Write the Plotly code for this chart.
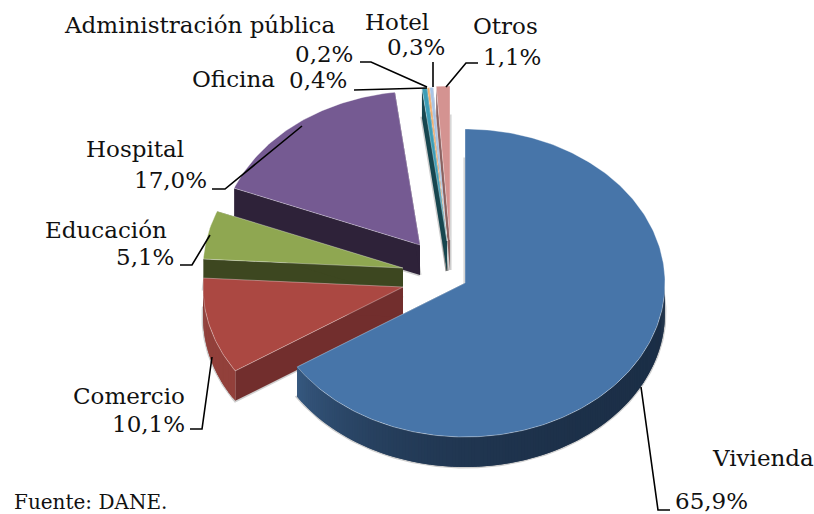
import numpy as np
import plotly.graph_objects as go

categories = ["Vivienda", "Comercio", "Educación", "Hospital", "Oficina",
              "Administración pública", "Hotel", "Otros"]
shares = [65.9, 10.1, 5.1, 17.0, 0.4, 0.2, 0.3, 1.1]
share_labels = ["65,9%", "10,1%", "5,1%", "17,0%", "0,4%", "0,2%", "0,3%", "1,1%"]

# layout of the exploded pie (pixels)
centre_x = [465, 403, 403, 420, 447, 447, 447, 450]
centre_y = [283, 287, 268, 245, 241, 241, 241, 240]
RX, RY, DEPTH = 200, 154, 30
tops = ["#4775A9", "#AB4842", "#8FA751", "#755A92", "#3C9DB6", "#F2AC68", "#A9C3E4", "#D49391"]
cuts = ["#2C4A6E", "#722E2D", "#3D4720", "#2E2239", "#17464F", "#8A5A2E", "#66768C", "#8B6160"]
arc_a = ["#1B2E46", "#92403B", "#3D4720", "#2E2239", "#17464F", "#8A5A2E", "#66768C", "#8B6160"]
arc_b = ["#36587F", "#7E3431", "#3D4720", "#2E2239", "#17464F", "#8A5A2E", "#66768C", "#8B6160"]

FONT = "DejaVu Serif"
SIZE = 23
texts = [
    ("Administración pública", 199, 25, SIZE), ("Hotel", 397, 22, SIZE), ("Otros", 505, 26, SIZE),
    ("0,2%", 324, 54, SIZE), ("0,3%", 416, 47, SIZE), ("1,1%", 512, 57, SIZE),
    ("Oficina", 233, 79, SIZE), ("0,4%", 318, 80, SIZE), ("Hospital", 135, 149, SIZE),
    ("17,0%", 170, 180, SIZE), ("Educación", 106, 230, SIZE), ("5,1%", 145, 257, SIZE),
    ("Comercio", 129, 396, SIZE), ("10,1%", 148, 424, SIZE), ("Vivienda", 763, 458, SIZE),
    ("65,9%", 711, 501, SIZE), ("Fuente: DANE.", 90, 502, 20),
]
leaders = [
    [(360, 62), (371, 62), (427, 87)],
    [(354, 90), (427, 88)],
    [(433, 62), (433, 87)],
    [(478, 63), (466, 63), (446, 87)],
    [(212, 189), (225, 189), (302, 126)],
    [(180, 265), (192, 265), (210, 235)],
    [(190, 429), (202, 429), (212, 357)],
    [(641, 387), (658, 510), (670, 510)],
]


def hex_mix(a, b, f):
    ca = np.array([int(a[i:i + 2], 16) for i in (1, 3, 5)])
    cb = np.array([int(b[i:i + 2], 16) for i in (1, 3, 5)])
    c = (ca + (cb - ca) * f).round().astype(int)
    return f"rgb({c[0]},{c[1]},{c[2]})"


def poly(fig, xs, ys, fill, line="rgba(0,0,0,0)", width=0):
    fig.add_trace(go.Scatter(x=xs, y=ys, mode="lines", fill="toself", fillcolor=fill,
                             line=dict(color=line, width=width), hoverinfo="skip",
                             showlegend=False))


fig = go.Figure()
total = sum(shares)
edges = np.concatenate([[0], np.cumsum(shares)]) / total * 2 * np.pi

for i in reversed(range(len(shares))):
    cx, cy = centre_x[i], centre_y[i]
    t = np.linspace(edges[i], edges[i + 1], max(int(shares[i] * 4), 6))
    px = cx + RX * np.sin(t)
    py = cy - RY * np.cos(t)
    # soft halo of the extruded body
    hx = np.concatenate([[cx], px, [cx]])
    hy = np.concatenate([[cy], py, [cy]]) + DEPTH
    fig.add_trace(go.Scatter(x=hx, y=hy, mode="lines", line=dict(color="rgba(60,60,60,0.25)", width=3),
                             hoverinfo="skip", showlegend=False))
    # cut faces
    poly(fig, [cx, px[0], px[0], cx], [cy, py[0], py[0] + DEPTH, cy + DEPTH], cuts[i])
    poly(fig, [cx, px[-1], px[-1], cx], [cy, py[-1], py[-1] + DEPTH, cy + DEPTH], cuts[i])
    # outer wall, painted in overlapping shaded strips
    for k in range(len(t) - 1):
        mid = (t[k] + t[k + 1]) / 2
        if np.cos(mid) > 0.05:
            continue
        f = ((mid - t[0]) / max(t[-1] - t[0], 1e-6)) ** 6
        col = hex_mix(arc_a[i], arc_b[i], f)
        e = min(k + 3, len(t))
        sx, sy = px[k:e], py[k:e]
        poly(fig, np.concatenate([sx, sx[::-1]]), np.concatenate([sy, sy[::-1] + DEPTH]), col)
    # top face
    poly(fig, np.concatenate([[cx], px, [cx]]), np.concatenate([[cy], py, [cy]]), tops[i],
         "rgba(255,255,255,0.35)", 1)

for pts in leaders:
    fig.add_trace(go.Scatter(x=[p[0] for p in pts], y=[p[1] for p in pts], mode="lines",
                             line=dict(color="black", width=1.6), hoverinfo="skip", showlegend=False))

annotations = [dict(x=x, y=y, text=s, showarrow=False, xref="x", yref="y", xanchor="center",
                    yanchor="middle", font=dict(family=FONT, size=sz, color="#111111"))
               for s, x, y, sz in texts]

fig.update_layout(
    width=814, height=514, margin=dict(l=0, r=0, t=0, b=0),
    paper_bgcolor="white", plot_bgcolor="white", annotations=annotations,
    xaxis=dict(range=[0, 814], visible=False, fixedrange=True),
    yaxis=dict(range=[514, 0], visible=False, fixedrange=True),
)
fig.write_html("out.html", config={"displayModeBar": False},
               post_script="document.body.style.margin='0';")
